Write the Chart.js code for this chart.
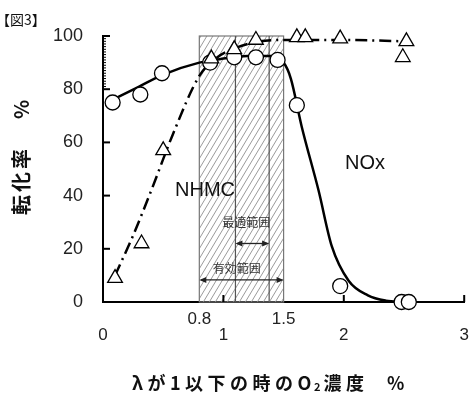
<!DOCTYPE html>
<html>
<head>
<meta charset="utf-8">
<script src="https://cdn.jsdelivr.net/npm/chart.js@4.4.1/dist/chart.umd.min.js"></script>
<style>
html, body { margin: 0; padding: 0; background: #fff; }
</style>
</head>
<body>
<canvas id="myChart" width="474" height="394"></canvas>
<script>
// measured markers
const noxX = [0.08, 0.31, 0.49, 0.89, 1.09, 1.27, 1.45, 1.61, 1.97, 2.48, 2.54];
const noxY = [75, 78, 86, 90, 92, 92, 91, 74, 6, 0, 0];
const nhmcX = [0.1, 0.32, 0.5, 0.9, 1.09, 1.27, 1.61, 1.68, 1.97, 2.49, 2.52];
const nhmcY = [9, 22, 57, 91.5, 95, 98.5, 99.5, 99.5, 99, 92, 98];

// fitted curves
const noxCurveX = [0.1, 0.3, 0.5, 0.8, 1.0, 1.2, 1.4, 1.5, 1.56, 1.65, 1.79, 1.9, 2.04, 2.2, 2.35, 2.5];
const noxCurveY = [76.5, 81, 85.5, 90, 91.5, 92.5, 92.5, 90, 84, 66, 42, 21, 8, 2.5, 0.5, 0];
const nhmcCurveX = [0.1, 0.25, 0.41, 0.58, 0.8, 0.95, 1.1, 1.3, 1.5, 2.0, 2.52];
const nhmcCurveY = [10, 25, 43, 63, 85, 92, 95.5, 98, 98.5, 98.5, 98];

const xTicks = [0, 1, 2, 3];
const xTicksUpper = [0.8, 1.5];
const xTickMarks = [1, 2, 3];
const yTicks = [0, 20, 40, 60, 80, 100];

const effectiveRange = [0.8, 1.5];
const optimalRange = [1.1, 1.38];

const cjk = "'Noto Sans CJK JP', sans-serif";
const latin = "'Liberation Sans', Arial, sans-serif";

function pts(xs, ys) {
	return xs.map((x, i) => ({ x: x, y: ys[i] }));
}

function arrow(c, x1, x2, y) {
	c.beginPath();
	c.moveTo(x1 + 2, y); c.lineTo(x2 - 2, y);
	c.stroke();
	[[x1, 1], [x2, -1]].forEach(([x, d]) => {
		c.beginPath();
		c.moveTo(x, y);
		c.lineTo(x + 7 * d, y - 3);
		c.lineTo(x + 7 * d, y + 3);
		c.closePath();
		c.fill();
	});
}

const figurePlugin = {
	id: 'figure',
	beforeDatasetsDraw(chart) {
		const c = chart.ctx, xs = chart.scales.x, ys = chart.scales.y;
		const l = xs.getPixelForValue(effectiveRange[0]), r = xs.getPixelForValue(effectiveRange[1]);
		const t = ys.getPixelForValue(100), b = ys.getPixelForValue(0);
		c.save();
		c.beginPath(); c.rect(l, t, r - l, b - t); c.clip();
		c.strokeStyle = '#9a9a9a'; c.lineWidth = 1;
		const h = b - t;
		for (let x0 = l - h; x0 < r + 10; x0 += 6) {
			c.beginPath(); c.moveTo(x0, b); c.lineTo(x0 + h * 0.6, t); c.stroke();
		}
		c.restore();
		c.save();
		c.strokeStyle = '#777'; c.lineWidth = 1.2;
		c.strokeRect(l, t, r - l, b - t);
		c.strokeStyle = '#555';
		optimalRange.forEach(v => {
			const px = xs.getPixelForValue(v);
			c.beginPath(); c.moveTo(px, t); c.lineTo(px, b); c.stroke();
		});
		// range arrows + labels
		c.strokeStyle = '#222'; c.fillStyle = '#222'; c.lineWidth = 1.3;
		arrow(c, xs.getPixelForValue(optimalRange[0]), xs.getPixelForValue(optimalRange[1]), ys.getPixelForValue(22));
		arrow(c, l, r, ys.getPixelForValue(8.3));
		c.font = '12px ' + cjk;
		c.textAlign = 'center'; c.textBaseline = 'middle';
		c.fillStyle = '#333';
		c.fillText('最適範囲', xs.getPixelForValue(1.19), ys.getPixelForValue(30));
		c.fillText('有効範囲', xs.getPixelForValue(1.11), ys.getPixelForValue(12.8));
		c.restore();
	},
	afterDraw(chart) {
		const c = chart.ctx, xs = chart.scales.x, ys = chart.scales.y;
		const area = chart.chartArea;
		c.save();
		c.strokeStyle = '#000';
		c.lineWidth = 2;
		yTicks.slice(1).forEach(v => {
			const py = ys.getPixelForValue(v);
			c.beginPath(); c.moveTo(area.left, py); c.lineTo(area.left + 7, py); c.stroke();
		});
		c.lineWidth = 1;
		for (let v = 81; v < 100; v++) {
			const py = ys.getPixelForValue(v);
			c.beginPath(); c.moveTo(area.left, py); c.lineTo(area.left + 3, py); c.stroke();
		}
		c.lineWidth = 2;
		xTickMarks.forEach(v => {
			const px = xs.getPixelForValue(v);
			c.beginPath(); c.moveTo(px, area.bottom); c.lineTo(px, area.bottom - 7); c.stroke();
		});

		// x tick labels, two rows like the original
		c.fillStyle = '#222';
		c.textBaseline = 'middle';
		c.textAlign = 'center';
		c.font = '17px ' + latin;
		xTicks.forEach(v => c.fillText(String(v), xs.getPixelForValue(v), area.bottom + 33));
		xTicksUpper.forEach(v => c.fillText(String(v), xs.getPixelForValue(v), area.bottom + 17));

		c.fillStyle = '#111';
		c.font = '20px ' + latin;
		c.fillText('NHMC', 205, 190);
		c.fillText('NOx', 365, 163);

		c.textAlign = 'left';
		c.font = '14px ' + cjk;
		c.fillText('【図3】', -4, 20);

		// x axis title with subscript 2
		c.font = 'bold 18px ' + cjk;
		c.letterSpacing = '4.5px';
		let x = 132;
		c.fillText('λが1以下の時のO', x, 383);
		x += c.measureText('λが1以下の時のO').width;
		c.font = 'bold 11px ' + cjk;
		c.letterSpacing = '0px';
		c.fillText('2', x - 2, 387);
		x += c.measureText('2').width + 1;
		c.font = 'bold 18px ' + cjk;
		c.letterSpacing = '4.5px';
		c.fillText('濃度', x, 383);
		c.letterSpacing = '0px';
		c.fillText('%', 387, 383);

		c.translate(21, 0);
		c.rotate(-Math.PI / 2);
		c.font = 'bold 20px ' + cjk;
		c.letterSpacing = '3px';
		c.fillText('転化率', -215, 0);
		c.letterSpacing = '0px';
		c.fillText('%', -119, 0);
		c.restore();
	}
};

let ctx = document.getElementById('myChart');
let chart = new Chart(ctx, {
	type: 'scatter',
	data: {
		datasets: [{
			type: 'line',
			label: 'NOx curve',
			data: pts(noxCurveX, noxCurveY),
			borderColor: '#000',
			borderWidth: 2.5,
			pointRadius: 0,
			cubicInterpolationMode: 'monotone',
			fill: false,
			order: 3
		}, {
			type: 'line',
			label: 'NHMC curve',
			data: pts(nhmcCurveX, nhmcCurveY),
			borderColor: '#000',
			borderWidth: 2.5,
			borderDash: [12, 5, 2, 5],
			pointRadius: 0,
			cubicInterpolationMode: 'monotone',
			fill: false,
			order: 2
		}, {
			label: 'NOx',
			data: pts(noxX, noxY),
			pointStyle: 'circle',
			pointRadius: 7.5,
			backgroundColor: '#fff',
			borderColor: '#000',
			borderWidth: 1.3,
			clip: false,
			order: 1
		}, {
			label: 'NHMC',
			data: pts(nhmcX, nhmcY),
			pointStyle: 'triangle',
			pointRadius: 8.5,
			backgroundColor: '#fff',
			borderColor: '#000',
			borderWidth: 1.3,
			clip: false,
			order: 0
		}]
	},
	options: {
		responsive: false,
		animation: false,
		layout: { padding: { top: 36, right: 7, left: 0, bottom: 0 } },
		plugins: { legend: { display: false }, tooltip: { enabled: false } },
		scales: {
			x: {
				type: 'linear',
				min: 0,
				max: 3,
				afterFit(s) { s.height = 92; },
				grid: { display: false, drawTicks: false },
				border: { display: true, color: '#000', width: 2 },
				ticks: { display: false }
			},
			y: {
				min: 0,
				max: 100,
				afterFit(s) { s.width = 103; },
				afterBuildTicks(s) { s.ticks = yTicks.map(v => ({ value: v })); },
				grid: { display: false, drawTicks: false },
				border: { display: true, color: '#000', width: 2 },
				ticks: {
					padding: 20,
					color: '#222',
					font: { family: latin, size: 18 }
				}
			}
		}
	},
	plugins: [figurePlugin]
});
</script>
</body>
</html>
